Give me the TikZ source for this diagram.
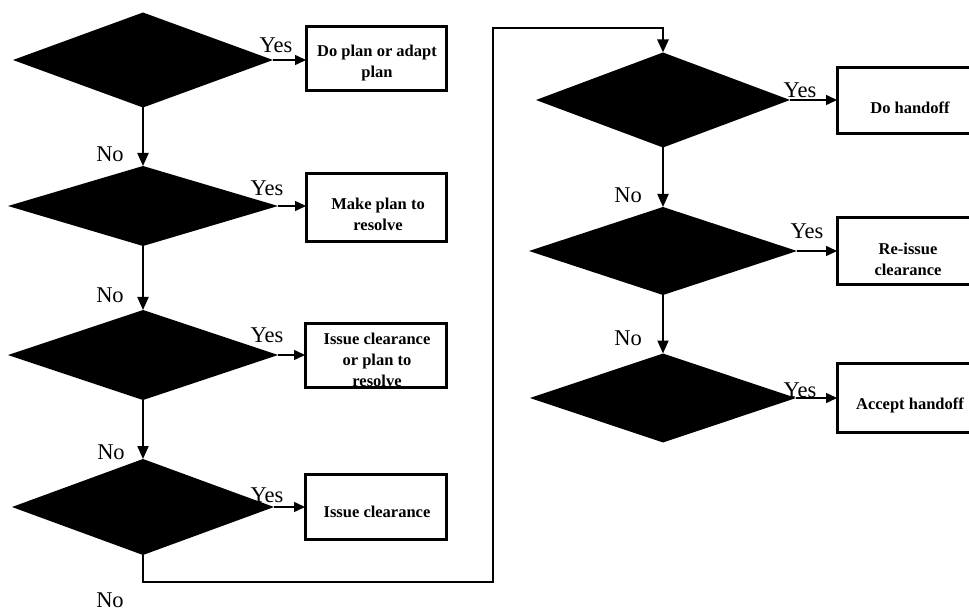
\documentclass[tikz,border=0pt]{standalone}
\usepackage{fontspec}
\setmainfont{Liberation Serif}
\usetikzlibrary{shapes.geometric,arrows.meta}
\tikzset{
  dia/.style={diamond, fill=black, draw=none, inner sep=0pt, outer sep=0pt},
  boxnode/.style={rectangle, draw=black, line width=3pt, inner sep=0pt, outer sep=0pt},
  boxtext/.style={font=\fontsize{16.5}{21}\selectfont\bfseries, align=center, inner sep=0pt},
  yn/.style={font=\fontsize{22.5}{26}\selectfont, inner sep=0pt},
  conn/.style={line width=2pt, -{Triangle[length=13pt,width=11pt]}},
  yesarr/.style={line width=1.5pt, -{Triangle[length=11pt,width=10pt]}},
  loopline/.style={line width=2.6pt, line join=miter, -{Triangle[length=13pt,width=11pt]}},
}
\begin{document}
\begin{tikzpicture}[x=1pt,y=-1pt]
\useasboundingbox (0,0) rectangle (969,612);
\clip (0,0) rectangle (969,612);

% diamonds
\node[dia, minimum width=260pt, minimum height=95pt] (d1) at (143,60) {};
\node[dia, minimum width=270pt, minimum height=80pt] (d2) at (143,206) {};
\node[dia, minimum width=270pt, minimum height=90pt] (d3) at (143,355) {};
\node[dia, minimum width=262pt, minimum height=96pt] (d4) at (143,507) {};
\node[dia, minimum width=254pt, minimum height=95pt] (d5) at (663,100) {};
\node[dia, minimum width=268pt, minimum height=88pt] (d6) at (663,251) {};
\node[dia, minimum width=266pt, minimum height=89pt] (d7) at (663,398) {};

% boxes
\node[boxnode, minimum width=140pt, minimum height=64pt] (b1) at (376,59) {};
\node[boxnode, minimum width=140pt, minimum height=68pt] (b2) at (376,208) {};
\node[boxnode, minimum width=141pt, minimum height=64pt] (b3) at (375.5,355) {};
\node[boxnode, minimum width=141pt, minimum height=65pt] (b4) at (375.5,506.5) {};
\node[boxnode, minimum width=144pt, minimum height=66pt] (b5) at (909,101) {};
\node[boxnode, minimum width=144pt, minimum height=67pt] (b6) at (909,251.5) {};
\node[boxnode, minimum width=144pt, minimum height=69pt] (b7) at (909,397.5) {};

% box texts
\node[boxtext] (t1) at (377,63) {Do plan or adapt\\plan};
\node[boxtext] (t2) at (378,214) {Make plan to\\resolve};
\node[boxtext] (t3) at (377,360) {Issue clearance\\or plan to\\resolve};
\node[boxtext] (t4) at (377,512) {Issue clearance};
\node[boxtext] (t5) at (910,108) {Do handoff};
\node[boxtext] (t6) at (908,259) {Re-issue\\clearance};
\node[boxtext] (t7) at (910,405) {Accept handoff};

% No connectors
\draw[conn] (d1.south) -- (d2.north);
\draw[conn] (d2.south) -- (d3.north);
\draw[conn] (d3.south) -- (d4.north);
\draw[conn] (d5.south) -- (d6.north);
\draw[conn] (d6.south) -- (d7.north);

% loop from bottom-left to top-right column
\coordinate (c1) at (493,582);
\coordinate (c2) at (493,28);
\draw[loopline] (d4.south) |- (c1) -- (c2) -| (d5.north);

% Yes connectors
\draw[yesarr] (d1.east) -- (d1.east -| b1.west);
\draw[yesarr] (d2.east) -- (d2.east -| b2.west);
\draw[yesarr] (d3.east) -- (d3.east -| b3.west);
\draw[yesarr] (d4.east) -- (d4.east -| b4.west);
\draw[yesarr] (d5.east) -- (d5.east -| b5.west);
\draw[yesarr] (d6.east) -- (d6.east -| b6.west);
\draw[yesarr] (d7.east) -- (d7.east -| b7.west);

% Yes labels
\node[yn] (y1) at (276,45) {Yes};
\node[yn] (y2) at (267,188) {Yes};
\node[yn] (y3) at (267,335) {Yes};
\node[yn] (y4) at (267,495) {Yes};
\node[yn] (y5) at (800,90) {Yes};
\node[yn] (y6) at (807,231) {Yes};
\node[yn] (y7) at (800,390) {Yes};

% No labels
\node[yn] (n1) at (110,154) {No};
\node[yn] (n2) at (110,295) {No};
\node[yn] (n3) at (111,452) {No};
\node[yn] (n4) at (110,600) {No};
\node[yn] (n5) at (628,195) {No};
\node[yn] (n6) at (628,338) {No};
\end{tikzpicture}
\end{document}
